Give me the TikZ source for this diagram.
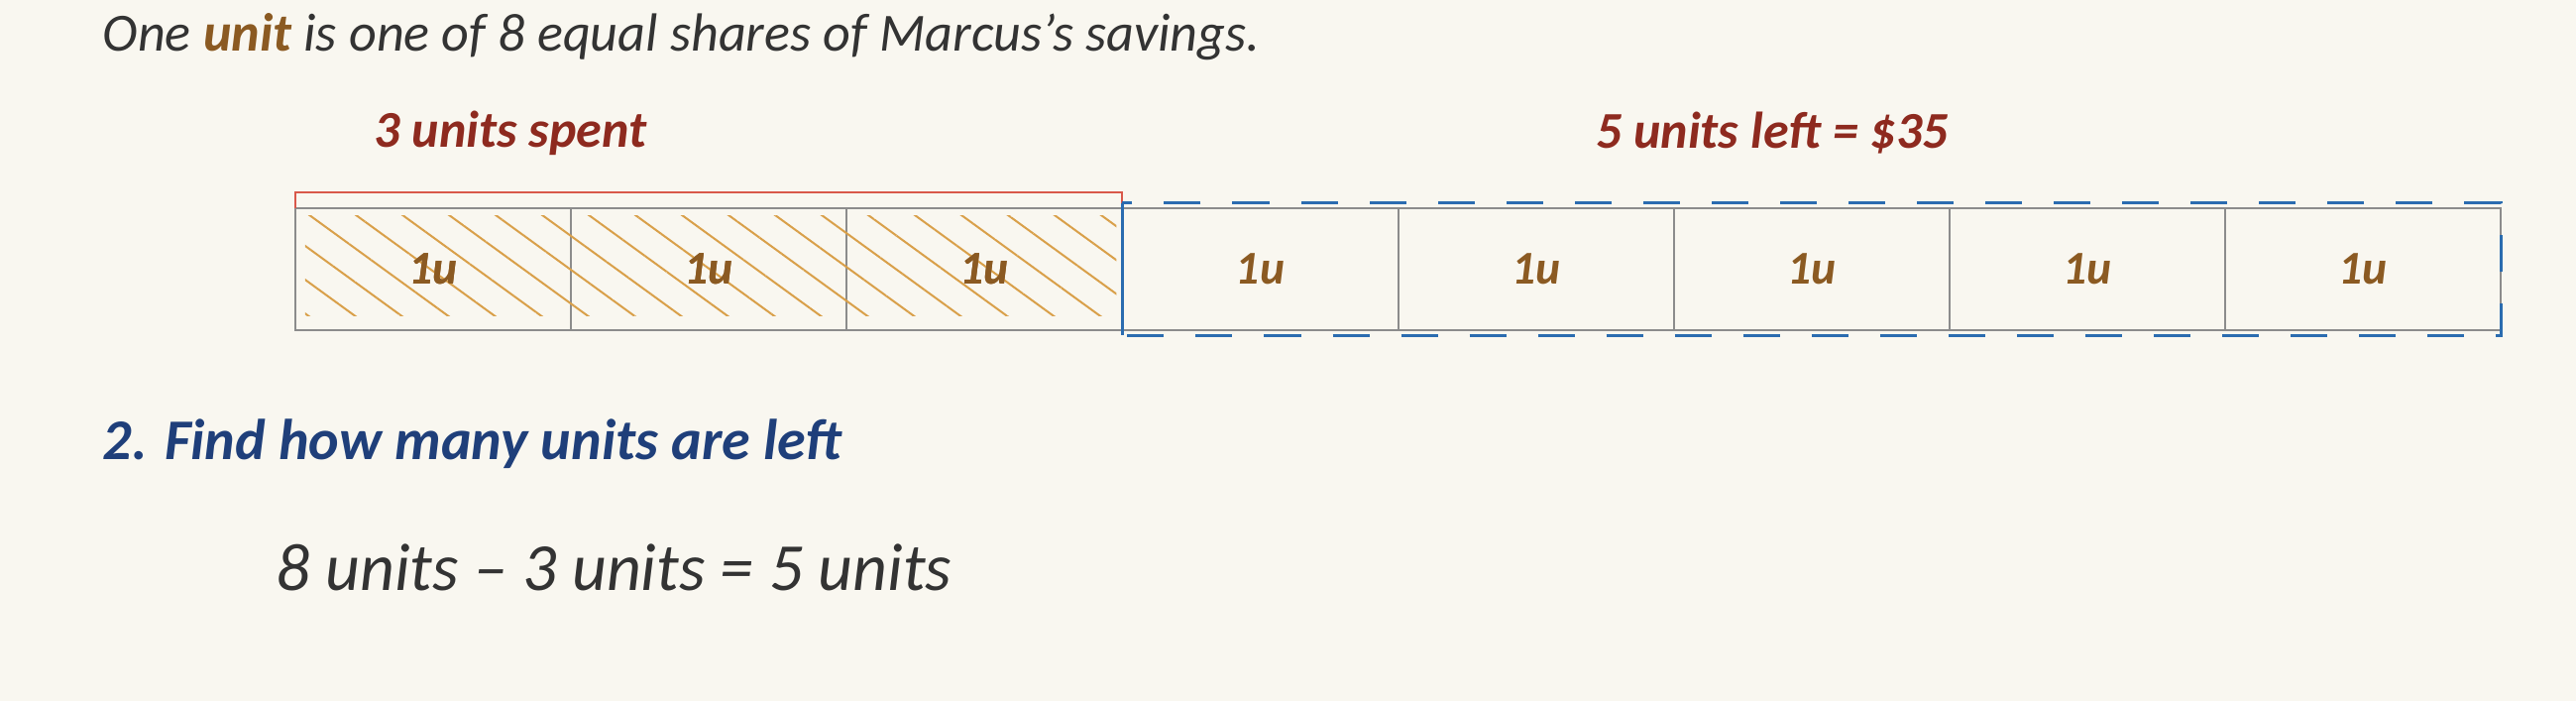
\documentclass[tikz,border=0pt]{standalone}
\usepackage{fontspec}
\setmainfont{Carlito}
\usepackage{xcolor}
\usepackage{tikz}
\usetikzlibrary{positioning, patterns.meta}

\definecolor{paper}{HTML}{F9F7F0}
\definecolor{ink}{HTML}{333333}
\definecolor{unitbrown}{HTML}{8B5A22}
\definecolor{spentred}{HTML}{8E2A1F}
\definecolor{stepblue}{HTML}{1F3F7A}
\definecolor{hatchorange}{HTML}{D9A04A}
\definecolor{boxgray}{HTML}{8C8C8C}
\definecolor{leftblue}{HTML}{2B6CB0}
\definecolor{bracketred}{HTML}{D9584A}

\begin{document}
\begin{tikzpicture}[
    x=0.01cm, y=-0.01cm,
    note/.style={anchor=west, inner sep=0pt, text=ink, font=\itshape\fontsize{15.4}{18}\selectfont},
    steptitle/.style={anchor=west, inner sep=0pt, text=stepblue, font=\bfseries\itshape\fontsize{16.5}{19}\selectfont},
    barlabel/.style={inner sep=0pt, text=spentred, font=\bfseries\itshape\fontsize{14.8}{17}\selectfont},
    equation/.style={anchor=west, inner sep=0pt, text=ink, font=\itshape\fontsize{19.3}{22}\selectfont},
    unitbox/.style={rectangle, draw=boxgray, line width=0.2mm, minimum width=2.78cm, minimum height=1.23cm, inner sep=0pt, outer sep=0pt, text=unitbrown, font=\bfseries\itshape\fontsize{13.5}{15}\selectfont},
    hatched/.style={pattern={Lines[angle=-36, distance=2.76mm, line width=0.2mm]}, pattern color=hatchorange},
    spentline/.style={draw=bracketred, line width=0.2mm},
    leftline/.style={draw=leftblue, line width=0.3mm, dash pattern=on 3.7mm off 3.2mm},
    node distance=0pt
]

% Paper
\fill[paper] (0,0) rectangle (2599,707);

% Texts
\node[note] (title) at (103,37) {One {\color{unitbrown}\bfseries unit} is one of 8 equal shares of Marcus’s savings.};

% Bar of eight units
\node[unitbox] (u1) at (437,271.5) {1u};
\node[unitbox, right=of u1] (u2) {1u};
\node[unitbox, right=of u2] (u3) {1u};
\node[unitbox, right=of u3] (u4) {1u};
\node[unitbox, right=of u4] (u5) {1u};
\node[unitbox, right=of u5] (u6) {1u};
\node[unitbox, right=of u6] (u7) {1u};
\node[unitbox, right=of u7] (u8) {1u};

% Hatching of the spent part
\path[hatched] ([xshift=1mm,yshift=-0.8mm]u1.north west) rectangle ([xshift=-0.6mm,yshift=1.5mm]u3.south east);
\node[unitbox, draw=none] at (u1) {1u};
\node[unitbox, draw=none] at (u2) {1u};
\node[unitbox, draw=none] at (u3) {1u};

% Brackets
\draw[spentline] (u1.north west) |- ([yshift=1.6mm]u3.north east) -- ([yshift=-2mm]u3.north east);
\draw[leftline] ([yshift=0.5mm]u4.north west) rectangle ([yshift=-0.5mm]u8.south east);
\draw[draw=leftblue, line width=0.3mm] ([yshift=-2mm]u4.north west) -- ([yshift=-0.5mm]u4.south west);

\node[barlabel] (spent) at (515,134) {3 units spent};
\node[barlabel] (left) at (1788,134) {5 units left = \$35};

\node[steptitle] (step2) at (103,448) {2. Find how many units are left};
\node[equation] (calc) at (278,572) {8 units – 3 units = 5 units};

\end{tikzpicture}
\end{document}
